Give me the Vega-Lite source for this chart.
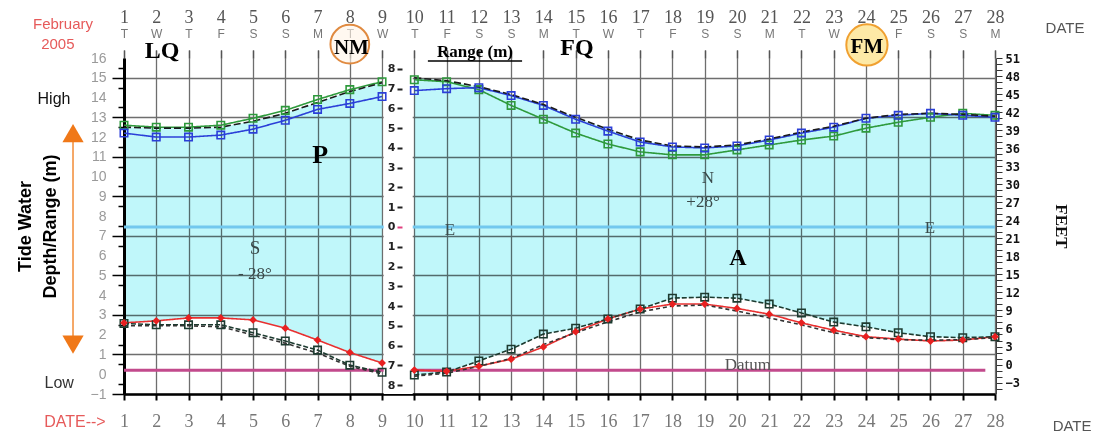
{
  "$schema": "https://vega.github.io/schema/vega-lite/v6.json",
  "width": 871,
  "height": 336,
  "autosize": "none",
  "padding": {"left": 124, "top": 58, "right": 103, "bottom": 46},
  "background": "white",
  "config": {
    "view": {"stroke": null},
    "axis": {"labelFlush": false, "labelOverlap": false}
  },
  "datasets": {
    "tide": [
      {"day": 1, "seg": "a", "green": 12.6, "blue": 12.2, "blackHi": 12.5, "red": 2.6, "blackA": 2.57, "blackB": 2.45},
      {"day": 2, "seg": "a", "green": 12.5, "blue": 12.0, "blackHi": 12.45, "red": 2.7, "blackA": 2.5, "blackB": 2.45},
      {"day": 3, "seg": "a", "green": 12.5, "blue": 12.0, "blackHi": 12.45, "red": 2.85, "blackA": 2.5, "blackB": 2.45},
      {"day": 4, "seg": "a", "green": 12.6, "blue": 12.1, "blackHi": 12.5, "red": 2.85, "blackA": 2.5, "blackB": 2.4},
      {"day": 5, "seg": "a", "green": 12.95, "blue": 12.4, "blackHi": 12.8, "red": 2.75, "blackA": 2.1, "blackB": 1.98},
      {"day": 6, "seg": "a", "green": 13.35, "blue": 12.85, "blackHi": 13.2, "red": 2.33, "blackA": 1.68, "blackB": 1.57},
      {"day": 7, "seg": "a", "green": 13.9, "blue": 13.4, "blackHi": 13.75, "red": 1.73, "blackA": 1.22, "blackB": 1.07},
      {"day": 8, "seg": "a", "green": 14.4, "blue": 13.7, "blackHi": 14.3, "red": 1.1, "blackA": 0.46, "blackB": 0.4},
      {"day": 9, "seg": "a", "green": 14.8, "blue": 14.05, "blackHi": 14.75, "red": 0.57, "blackA": 0.1, "blackB": 0.02},
      {"day": 10, "seg": "b", "green": 14.9, "blue": 14.35, "blackHi": 15.0, "red": 0.21, "blackA": -0.04, "blackB": -0.1},
      {"day": 11, "seg": "b", "green": 14.8, "blue": 14.45, "blackHi": 14.85, "red": 0.15, "blackA": 0.11, "blackB": 0.05},
      {"day": 12, "seg": "b", "green": 14.4, "blue": 14.5, "blackHi": 14.55, "red": 0.41, "blackA": 0.67, "blackB": 0.4},
      {"day": 13, "seg": "b", "green": 13.6, "blue": 14.1, "blackHi": 14.15, "red": 0.76, "blackA": 1.27, "blackB": 0.8},
      {"day": 14, "seg": "b", "green": 12.9, "blue": 13.6, "blackHi": 13.65, "red": 1.38, "blackA": 2.03, "blackB": 1.5},
      {"day": 15, "seg": "b", "green": 12.2, "blue": 12.9, "blackHi": 13.0, "red": 2.15, "blackA": 2.33, "blackB": 2.1},
      {"day": 16, "seg": "b", "green": 11.65, "blue": 12.3, "blackHi": 12.4, "red": 2.8, "blackA": 2.8, "blackB": 2.65},
      {"day": 17, "seg": "b", "green": 11.25, "blue": 11.75, "blackHi": 11.85, "red": 3.3, "blackA": 3.3, "blackB": 3.15},
      {"day": 18, "seg": "b", "green": 11.1, "blue": 11.5, "blackHi": 11.55, "red": 3.55, "blackA": 3.85, "blackB": 3.45},
      {"day": 19, "seg": "b", "green": 11.1, "blue": 11.45, "blackHi": 11.5, "red": 3.55, "blackA": 3.9, "blackB": 3.5},
      {"day": 20, "seg": "b", "green": 11.35, "blue": 11.55, "blackHi": 11.6, "red": 3.33, "blackA": 3.85, "blackB": 3.2},
      {"day": 21, "seg": "b", "green": 11.6, "blue": 11.85, "blackHi": 11.9, "red": 3.04, "blackA": 3.55, "blackB": 2.85},
      {"day": 22, "seg": "b", "green": 11.85, "blue": 12.2, "blackHi": 12.25, "red": 2.6, "blackA": 3.1, "blackB": 2.5},
      {"day": 23, "seg": "b", "green": 12.05, "blue": 12.5, "blackHi": 12.55, "red": 2.23, "blackA": 2.64, "blackB": 2.1},
      {"day": 24, "seg": "b", "green": 12.45, "blue": 12.95, "blackHi": 12.95, "red": 1.9, "blackA": 2.4, "blackB": 1.85},
      {"day": 25, "seg": "b", "green": 12.75, "blue": 13.1, "blackHi": 13.15, "red": 1.78, "blackA": 2.1, "blackB": 1.75},
      {"day": 26, "seg": "b", "green": 13.0, "blue": 13.2, "blackHi": 13.2, "red": 1.68, "blackA": 1.9, "blackB": 1.72},
      {"day": 27, "seg": "b", "green": 13.2, "blue": 13.1, "blackHi": 13.15, "red": 1.73, "blackA": 1.85, "blackB": 1.75},
      {"day": 28, "seg": "b", "green": 13.1, "blue": 13.0, "blackHi": 13.05, "red": 1.9, "blackA": 1.9, "blackB": 1.85}
    ]
  },
  "layer": [
    {
      "data": {"name": "tide"},
      "encoding": {
        "x": {
          "field": "day", "type": "quantitative",
          "scale": {"domain": [1, 28], "nice": false, "zero": false},
          "axis": {
            "orient": "bottom",
            "values": [1,2,3,4,5,6,7,8,9,10,11,12,13,14,15,16,17,18,19,20,21,22,23,24,25,26,27,28],
            "grid": true, "gridColor": "#6e6e6e", "gridWidth": 1.3,
            "domainColor": "#000000", "domainWidth": 2.5,
            "tickColor": "#000000", "tickWidth": 2, "tickSize": 6,
            "labelFont": "Liberation Serif", "labelFontSize": 18, "labelColor": "#777777",
            "labelPadding": 12, "labelOverlap": false, "labelFlush": false, "title": null
          }
        }
      },
      "layer": [
        {
          "transform": [{"filter": "datum.seg === 'a'"}],
          "mark": {"type": "area", "color": "#c0f7fa", "blend": "multiply"},
          "encoding": {
            "y": {
              "field": "blackHi", "type": "quantitative",
              "scale": {"domain": [-1, 16], "nice": false, "zero": false},
              "axis": {
                "orient": "left",
                "values": [-1,0,1,2,3,4,5,6,7,8,9,10,11,12,13,14,15,16],
                "labels": false,
                "grid": true, "gridColor": "#6e6e6e", "gridWidth": 1.3,
                "tickSize": 12,
                "domainColor": "#000000", "domainWidth": 3,
                "tickColor": "#000000", "tickWidth": 1.5,
                "title": ["Tide Water", "Depth/Range (m)"],
                "titleFont": "Liberation Sans", "titleFontSize": 18, "titleFontWeight": "bold",
                "titleColor": "#000000", "titlePadding": 52, "titleLineHeight": 25
              }
            },
            "y2": {"field": "red"}
          }
        },
        {
          "transform": [{"filter": "datum.seg === 'b'"}],
          "mark": {"type": "area", "color": "#c0f7fa", "blend": "multiply"},
          "encoding": {
            "y": {"field": "blackHi", "type": "quantitative", "scale": {"domain": [-1, 16], "nice": false, "zero": false}},
            "y2": {"field": "blackA"}
          }
        },
        {
          "transform": [{"filter": "datum.day === 1"}],
          "mark": {"type": "rule", "color": "#72c8ee", "strokeWidth": 3},
          "encoding": {"x": {"datum": 1}, "x2": {"datum": 28}, "y": {"datum": 7.45}}
        },
        {
          "transform": [{"filter": "datum.day === 1"}],
          "mark": {"type": "rule", "color": "#c24a8c", "strokeWidth": 3},
          "encoding": {"x": {"datum": 1}, "x2": {"datum": 27.7}, "y": {"datum": 0.2}}
        },
        {
          "transform": [{"filter": "datum.day === 1"}],
          "mark": {"type": "rect", "color": "#ffffff"},
          "encoding": {"x": {"datum": 9.05}, "x2": {"datum": 9.95}, "y": {"datum": 16}, "y2": {"datum": -1}}
        },
        {
          "transform": [{"fold": ["green", "blue", "blackHi", "red", "blackA", "blackB"], "as": ["series", "v"]}],
          "mark": {"type": "line", "strokeWidth": 1.6},
          "encoding": {
            "y": {"field": "v", "type": "quantitative"},
            "color": {"field": "series", "type": "nominal", "legend": null,
              "scale": {"domain": ["green", "blue", "blackHi", "red", "blackA", "blackB"],
                        "range": ["#2e9a3c", "#2b3fd8", "#1a1a1a", "#e83030", "#1d3b30", "#333333"]}},
            "strokeDash": {"field": "series", "type": "nominal", "legend": null,
              "scale": {"domain": ["green", "blue", "blackHi", "red", "blackA", "blackB"],
                        "range": [[1, 0], [1, 0], [7, 3], [1, 0], [5, 2], [4, 3]]}},
            "detail": {"field": "seg"}
          }
        },
        {
          "transform": [
            {"fold": ["green", "blue", "blackA"], "as": ["series", "v"]}
          ],
          "mark": {"type": "point", "shape": "square", "filled": false, "size": 55, "strokeWidth": 1.6, "opacity": 1},
          "encoding": {
            "y": {"field": "v", "type": "quantitative"},
            "color": {"field": "series", "type": "nominal", "legend": null}
          }
        },
        {
          "transform": [{"fold": ["red"], "as": ["series", "v"]}],
          "mark": {"type": "point", "shape": "diamond", "filled": true, "size": 60, "color": "#e82020", "opacity": 1},
          "encoding": {"y": {"field": "v", "type": "quantitative"}}
        },
        {
          "transform": [{"filter": "datum.day === 1"}],
          "mark": {"type": "rule", "color": "#000000", "strokeWidth": 1.5},
          "encoding": {"x": {"datum": 10.42}, "x2": {"datum": 13.34}, "y": {"datum": 15.85}}
        },
        {
          "transform": [{"filter": "datum.day === 1"}],
          "mark": {"type": "point", "shape": "circle", "size": 1500, "filled": true, "fill": "#fff3e6", "fillOpacity": 0.6, "stroke": "#e08a40", "strokeWidth": 2, "strokeOpacity": 1},
          "encoding": {"x": {"datum": 8.0}, "y": {"datum": 16.7}}
        },
        {
          "transform": [{"filter": "datum.day === 1"}],
          "mark": {"type": "point", "shape": "circle", "size": 1700, "filled": true, "fill": "#fde9a6", "stroke": "#f0a030", "strokeWidth": 2, "opacity": 1},
          "encoding": {"x": {"datum": 24.03}, "y": {"datum": 16.66}}
        },
        {
          "transform": [{"filter": "datum.day === 1"}],
          "mark": {"type": "rule", "color": "#f5a766", "strokeWidth": 2},
          "encoding": {"x": {"datum": -0.58}, "y": {"datum": 12.0}, "y2": {"datum": 1.7}}
        },
        {
          "transform": [{"filter": "datum.day === 1"}],
          "mark": {"type": "point", "shape": "triangle-up", "size": 450, "filled": true, "color": "#f07818", "opacity": 1},
          "encoding": {"x": {"datum": -0.58}, "y": {"datum": 12.2}}
        },
        {
          "transform": [{"filter": "datum.day === 1"}],
          "mark": {"type": "point", "shape": "triangle-down", "size": 450, "filled": true, "color": "#f07818", "opacity": 1},
          "encoding": {"x": {"datum": -0.58}, "y": {"datum": 1.5}}
        },
        {"transform": [{"filter": "datum.day === 1"}], "mark": {"type": "text", "text": "LQ", "font": "Liberation Serif", "fontWeight": "bold", "fontSize": 24, "color": "#000000"}, "encoding": {"x": {"datum": 2.18}, "y": {"datum": 16.35}}},
        {"transform": [{"filter": "datum.day === 1"}], "mark": {"type": "text", "text": "NM", "font": "Liberation Serif", "fontWeight": "bold", "fontSize": 21, "color": "#000000"}, "encoding": {"x": {"datum": 8.05}, "y": {"datum": 16.5}}},
        {"transform": [{"filter": "datum.day === 1"}], "mark": {"type": "text", "text": "FQ", "font": "Liberation Serif", "fontWeight": "bold", "fontSize": 24, "color": "#000000"}, "encoding": {"x": {"datum": 15.04}, "y": {"datum": 16.5}}},
        {"transform": [{"filter": "datum.day === 1"}], "mark": {"type": "text", "text": "FM", "font": "Liberation Serif", "fontWeight": "bold", "fontSize": 21, "color": "#000000"}, "encoding": {"x": {"datum": 24.03}, "y": {"datum": 16.55}}},
        {"transform": [{"filter": "datum.day === 1"}], "mark": {"type": "text", "text": "Range (m)", "font": "Liberation Serif", "fontWeight": "bold", "fontSize": 17, "color": "#000000"}, "encoding": {"x": {"datum": 11.88}, "y": {"datum": 16.3}}},
        {"transform": [{"filter": "datum.day === 1"}], "mark": {"type": "text", "text": "P", "font": "Liberation Serif", "fontWeight": "bold", "fontSize": 26, "color": "#000000"}, "encoding": {"x": {"datum": 7.08}, "y": {"datum": 11.09}}},
        {"transform": [{"filter": "datum.day === 1"}], "mark": {"type": "text", "text": "A", "font": "Liberation Serif", "fontWeight": "bold", "fontSize": 24, "color": "#000000"}, "encoding": {"x": {"datum": 20.03}, "y": {"datum": 5.88}}},
        {"transform": [{"filter": "datum.day === 1"}], "mark": {"type": "text", "text": "S", "font": "Liberation Serif", "fontSize": 19, "color": "#3a4a4a"}, "encoding": {"x": {"datum": 5.06}, "y": {"datum": 6.38}}},
        {"transform": [{"filter": "datum.day === 1"}], "mark": {"type": "text", "text": "- 28°", "font": "Liberation Serif", "fontSize": 17, "color": "#3a4a4a"}, "encoding": {"x": {"datum": 5.06}, "y": {"datum": 5.07}}},
        {"transform": [{"filter": "datum.day === 1"}], "mark": {"type": "text", "text": "N", "font": "Liberation Serif", "fontSize": 17, "color": "#3a4a4a"}, "encoding": {"x": {"datum": 19.1}, "y": {"datum": 9.93}}},
        {"transform": [{"filter": "datum.day === 1"}], "mark": {"type": "text", "text": "+28°", "font": "Liberation Serif", "fontSize": 17, "color": "#3a4a4a"}, "encoding": {"x": {"datum": 18.95}, "y": {"datum": 8.71}}},
        {"transform": [{"filter": "datum.day === 1"}], "mark": {"type": "text", "text": "E", "font": "Liberation Serif", "fontSize": 17, "color": "#3a4a4a"}, "encoding": {"x": {"datum": 11.1}, "y": {"datum": 7.3}}},
        {"transform": [{"filter": "datum.day === 1"}], "mark": {"type": "text", "text": "E", "font": "Liberation Serif", "fontSize": 17, "color": "#3a4a4a"}, "encoding": {"x": {"datum": 25.98}, "y": {"datum": 7.4}}},
        {"transform": [{"filter": "datum.day === 1"}], "mark": {"type": "text", "text": "Datum", "font": "Liberation Serif", "fontSize": 17, "color": "#555555"}, "encoding": {"x": {"datum": 20.34}, "y": {"datum": 0.46}}},
        {"transform": [{"filter": "datum.day === 1"}], "mark": {"type": "text", "text": "February", "font": "Liberation Sans", "fontSize": 15, "color": "#e65a5a"}, "encoding": {"x": {"datum": -0.89}, "y": {"datum": 17.72}}},
        {"transform": [{"filter": "datum.day === 1"}], "mark": {"type": "text", "text": "2005", "font": "Liberation Sans", "fontSize": 15, "color": "#e65a5a"}, "encoding": {"x": {"datum": -1.05}, "y": {"datum": 16.71}}},
        {"transform": [{"filter": "datum.day === 1"}], "mark": {"type": "text", "text": "High", "font": "Liberation Sans", "fontSize": 16, "color": "#111111"}, "encoding": {"x": {"datum": -1.17}, "y": {"datum": 13.93}}},
        {"transform": [{"filter": "datum.day === 1"}], "mark": {"type": "text", "text": "Low", "font": "Liberation Sans", "fontSize": 16, "color": "#333333"}, "encoding": {"x": {"datum": -1.01}, "y": {"datum": -0.45}}},
        {"transform": [{"filter": "datum.day === 1"}], "mark": {"type": "text", "text": "DATE-->", "font": "Liberation Sans", "fontSize": 16, "color": "#e65a5a"}, "encoding": {"x": {"datum": -0.52}, "y": {"datum": -2.42}}},
        {"transform": [{"filter": "datum.day === 1"}], "mark": {"type": "text", "text": "DATE", "font": "Liberation Sans", "fontSize": 15, "color": "#555555"}, "encoding": {"x": {"datum": 30.39}, "y": {"datum": -2.6}}},
        {"transform": [{"filter": "datum.day === 1"}], "mark": {"type": "text", "text": "DATE", "font": "Liberation Sans", "fontSize": 15, "color": "#555555"}, "encoding": {"x": {"datum": 30.17}, "y": {"datum": 17.52}}}
      ]
    },
    {
      "data": {"values": [{"m": -1}, {"m": 16}]},
      "mark": {"type": "point", "opacity": 0},
      "encoding": {
        "y": {
          "field": "m", "type": "quantitative",
          "scale": {"domain": [-1, 16], "nice": false, "zero": false},
          "axis": {
            "orient": "left",
            "values": [-0.5,0.5,1.5,2.5,3.5,4.5,5.5,6.5,7.5,8.5,9.5,10.5,11.5,12.5,13.5,14.5,15.5],
            "labels": false, "domain": false, "grid": false,
            "tickSize": 6, "tickColor": "#000000", "tickWidth": 1.5, "title": null
          }
        }
      }
    },
    {
      "data": {"values": [{"lv": -1}, {"lv": 16}]},
      "mark": {"type": "point", "opacity": 0},
      "encoding": {
        "y": {
          "field": "lv", "type": "quantitative",
          "scale": {"domain": [-1, 16], "nice": false, "zero": false},
          "axis": {
            "orient": "left",
            "values": [-1,0,1,2,3,4,5,6,7,8,9,10,11,12,13,14,15,16],
            "labelOverlap": false, "labelFlush": false, "labelBound": false,
            "domain": false, "grid": false,
            "ticks": true, "tickSize": 12, "tickOpacity": 0,
            "labelFont": "Liberation Sans", "labelFontSize": 14, "labelColor": "#9a9a9a", "labelPadding": 6,
            "title": null
          }
        }
      }
    },
    {
      "data": {"values": [{"r": -8}, {"r": 8}]},
      "mark": {"type": "point", "opacity": 0},
      "encoding": {
        "y": {
          "field": "r", "type": "quantitative",
          "scale": {"domain": [-8.45, 8.55], "nice": false, "zero": false},
          "axis": {
            "orient": "left", "offset": -278, "zindex": 2,
            "values": [-8,-7,-6,-5,-4,-3,-2,-1,0,1,2,3,4,5,6,7,8],
            "labelExpr": "abs(datum.value)",
            "labelOverlap": false,
            "domain": false, "grid": false,
            "tickSize": 5, "tickWidth": 2,
            "tickColor": {"condition": {"test": "datum.value === 0", "value": "#e0407f"}, "value": "#222222"},
            "labelFont": "DejaVu Sans", "labelFontSize": 11, "labelFontWeight": "bold", "labelColor": "#222222",
            "labelPadding": 2, "title": null
          }
        }
      }
    },
    {
      "data": {"values": [{"ft": -4}, {"ft": 51}]},
      "mark": {"type": "point", "opacity": 0},
      "encoding": {
        "y": {
          "field": "ft", "type": "quantitative",
          "scale": {"domain": [-4.9, 51.0], "nice": false, "zero": false},
          "axis": {
            "orient": "right", "offset": 1,
            "values": [-4,-3,-2,-1,0,1,2,3,4,5,6,7,8,9,10,11,12,13,14,15,16,17,18,19,20,21,22,23,24,25,26,27,28,29,30,31,32,33,34,35,36,37,38,39,40,41,42,43,44,45,46,47,48,49,50,51],
            "labelExpr": "datum.value % 3 === 0 ? datum.label : ''",
            "labelOverlap": false,
            "domain": true, "domainColor": "#444444", "grid": false,
            "tickSize": 6, "tickColor": "#333333", "tickWidth": 1,
            "labelFont": "DejaVu Sans Mono", "labelFontSize": 12, "labelFontWeight": "bold", "labelColor": "#111111",
            "labelPadding": 3,
            "title": "FEET", "titleFont": "Liberation Serif", "titleFontSize": 17, "titleFontWeight": "bold",
            "titleColor": "#111111", "titlePadding": 32
          }
        }
      }
    },
    {
      "data": {"values": [{"day": 1}, {"day": 28}]},
      "mark": {"type": "point", "opacity": 0},
      "encoding": {
        "x": {
          "field": "day", "type": "quantitative",
          "scale": {"domain": [1, 28], "nice": false, "zero": false},
          "axis": {
            "orient": "top",
            "values": [1,2,3,4,5,6,7,8,9,10,11,12,13,14,15,16,17,18,19,20,21,22,23,24,25,26,27,28],
            "labelOverlap": false, "labelFlush": false,
            "domain": false, "grid": false,
            "tickSize": 8, "tickColor": "#555555", "tickWidth": 1.3,
            "labelFont": "Liberation Serif", "labelFontSize": 18, "labelColor": "#555555",
            "labelPadding": 24, "title": null
          }
        }
      }
    },
    {
      "data": {"values": [{"day": 1}, {"day": 28}]},
      "mark": {"type": "point", "opacity": 0},
      "encoding": {
        "x": {
          "field": "day", "type": "quantitative",
          "scale": {"domain": [1, 28], "nice": false, "zero": false},
          "axis": {
            "orient": "top",
            "values": [1,2,3,4,5,6,7,8,9,10,11,12,13,14,15,16,17,18,19,20,21,22,23,24,25,26,27,28],
            "labelExpr": "['M','T','W','T','F','S','S'][datum.value % 7]",
            "labelOverlap": false, "labelFlush": false,
            "domain": false, "grid": false,
            "tickSize": 8, "tickColor": "#555555", "tickWidth": 1.3,
            "labelFont": "Liberation Sans", "labelFontSize": 12, "labelColor": "#777777",
            "labelPadding": 10, "title": null
          }
        }
      }
    }
  ],
  "resolve": {"scale": {"y": "independent"}, "axis": {"x": "independent", "y": "independent"}}
}
